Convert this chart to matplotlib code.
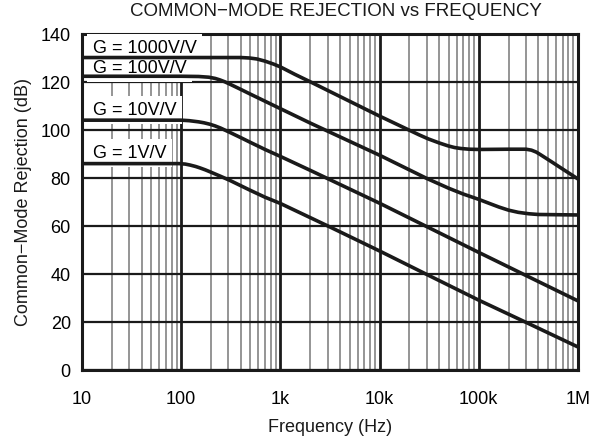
import matplotlib
matplotlib.use('Agg')
import matplotlib.pyplot as plt
from matplotlib.ticker import FixedLocator, NullFormatter

plt.rcParams['font.family'] = ['Liberation Sans', 'DejaVu Sans']

# values (Hz, dB)
f_g1000 = [10, 100, 300, 400, 490, 580, 700, 850, 1000, 1400, 2000, 10000, 20000, 25000,
           31000, 40000, 49000, 57000, 66000, 80000, 100000, 200000, 300000, 340000, 380000,
           420000, 470000, 540000, 640000, 760000, 1000000]
cmr_g1000 = [130.4, 130.4, 130.4, 130.4, 130.2, 129.8, 128.9, 127.7, 126.5, 123.4, 120.3,
             106.0, 100.1, 98.2, 96.5, 94.8, 93.6, 92.9, 92.5, 92.2, 92.1, 92.2, 92.2, 91.8,
             91.0, 89.9, 88.6, 87.0, 85.0, 83.0, 79.8]

f_g100 = [10, 100, 150, 190, 220, 245, 275, 310, 400, 490, 700, 1000, 2000, 10000, 30000,
          50000, 70000, 100000, 130000, 160000, 200000, 250000, 320000, 400000, 1000000]
cmr_g100 = [122.6, 122.6, 122.5, 122.2, 121.7, 121.1, 120.3, 119.3, 117.1, 115.3, 112.2,
            109.1, 103.1, 89.7, 80.0, 75.9, 73.5, 71.3, 69.5, 68.1, 66.8, 65.9, 65.3, 65.0,
            64.8]

f_g10 = [10, 100, 120, 150, 170, 195, 220, 250, 310, 400, 490, 700, 1000, 2000, 10000,
         100000, 1000000]
cmr_g10 = [104.3, 104.3, 104.1, 103.6, 103.2, 102.6, 101.9, 101.0, 99.2, 97.0, 95.2, 92.1,
           89.2, 83.4, 69.7, 49.2, 29.0]

f_g1 = [10, 95, 110, 123, 140, 155, 175, 195, 250, 310, 490, 700, 1000, 3160, 10000, 31000,
        100000, 316000, 1000000]
cmr_g1 = [86.2, 86.2, 86.0, 85.6, 85.0, 84.4, 83.6, 82.8, 80.9, 79.2, 75.2, 72.2, 69.6,
          59.8, 49.8, 39.7, 29.3, 19.6, 9.8]

x_ticks = [10, 100, 1000, 10000, 100000, 1000000]
x_labels = ['10', '100', '1k', '10k', '100k', '1M']
y_ticks = [0, 20, 40, 60, 80, 100, 120, 140]

labels = ['G = 1000V/V', 'G = 100V/V', 'G = 10V/V', 'G = 1V/V']
label_y = [134.3, 126.0, 108.5, 90.5]

fig = plt.figure(figsize=(6.09, 4.40), dpi=100)
ax = fig.add_axes([0.1346, 0.158, 0.8144, 0.7636])

ax.set_xscale('log')
ax.set_xlim(10, 1e6)
ax.set_ylim(0, 140)

ax.xaxis.set_major_locator(FixedLocator(x_ticks))
ax.set_xticklabels(x_labels)
minor = [m * d for d in x_ticks[:-1] for m in range(2, 10)]
ax.xaxis.set_minor_locator(FixedLocator(minor))
ax.xaxis.set_minor_formatter(NullFormatter())
ax.set_yticks(y_ticks)

ax.set_axisbelow(True)
ax.grid(True, which='major', axis='x', color='#1a1a1a', linewidth=2.0)
ax.grid(True, which='minor', axis='x', color='#8c8c8c', linewidth=1.3)
ax.grid(True, which='major', axis='y', color='#1a1a1a', linewidth=1.6)

ax.tick_params(axis='both', which='both', length=0, labelsize=13)
ax.tick_params(axis='x', pad=15)
ax.tick_params(axis='y', pad=8)

for s in ax.spines.values():
    s.set_linewidth(2.2)
    s.set_color('#1a1a1a')

for f, c in [(f_g1000, cmr_g1000), (f_g100, cmr_g100), (f_g10, cmr_g10), (f_g1, cmr_g1)]:
    ax.plot(f, c, color='#1a1a1a', linewidth=2.6, zorder=4, solid_joinstyle='round')

for txt, y in zip(labels, label_y):
    ax.text(12.8, y, txt, fontsize=13, ha='left', va='center', zorder=3,
            bbox=dict(facecolor='white', edgecolor='none', pad=4))

fig.text(336 / 609, 1 - 12 / 440, 'COMMON\u2212MODE REJECTION vs FREQUENCY',
         fontsize=13.5, ha='center', va='center', color='#1a1a1a')
ax.set_xlabel('Frequency (Hz)', fontsize=13, labelpad=8, color='#1a1a1a')
ax.set_ylabel('Common\u2212Mode Rejection (dB)', fontsize=13, labelpad=6, color='#1a1a1a')

fig.savefig('out.png', dpi=100)
